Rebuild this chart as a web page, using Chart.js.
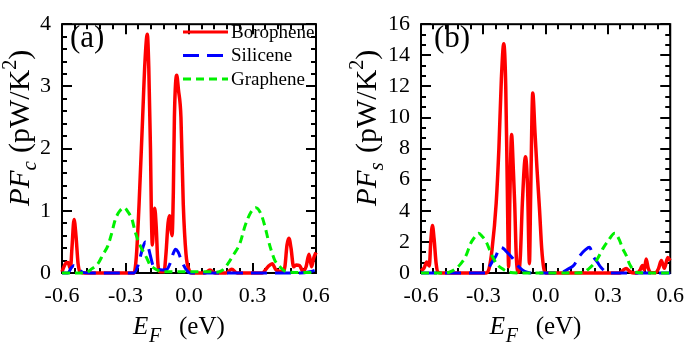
<!DOCTYPE html>
<html>
<head>
<meta charset="utf-8">
<script src="https://cdn.jsdelivr.net/npm/chart.js@4.4.0/dist/chart.umd.min.js"></script>
<style>
  body { margin: 0; background: #fff; }
  canvas { position: absolute; top: 0; }
</style>
</head>
<body>
<canvas id="chartA" width="347" height="349" style="left:0"></canvas>
<canvas id="chartB" width="347" height="349" style="left:347px"></canvas>
<script>
// ---- panel (a): PF_c ----
const boroA_E = [-0.600,-0.591,-0.581,-0.572,-0.560,-0.553,-0.543,-0.534,-0.524,-0.515,-0.496,
  -0.260,-0.248,-0.236,-0.219,-0.208,-0.197,-0.190,-0.182,-0.178,-0.173,-0.167,-0.162,-0.155,-0.147,
  -0.137,-0.118,-0.109,-0.099,-0.092,-0.085,-0.080,-0.074,-0.069,-0.058,-0.050,-0.038,-0.027,-0.014,
  0.000,0.014,0.075,0.099,0.123,0.175,0.202,0.227,0.345,0.373,0.393,0.411,0.445,0.453,0.463,0.472,
  0.482,0.494,0.506,0.522,0.538,0.553,0.567,0.579,0.590,0.600];
const boroA_PF = [0.02,0.10,0.16,0.17,0.07,0.40,0.86,0.60,0.15,0.02,0,
  0,0.30,1.10,2.50,3.40,3.84,3.30,2.00,1.00,0.45,0.85,1.04,0.75,0.15,
  0.02,0.02,0.30,0.80,0.92,0.70,0.60,1.30,2.50,3.18,2.95,2.50,1.10,0.30,
  0.05,0,0,0.05,0,0,0.06,0,0,0.10,0.15,0.05,0.02,0.10,0.45,0.56,
  0.40,0.10,0.13,0.12,0.03,0.10,0.30,0.10,0.25,0.33];

const siliA_E = [-0.600,-0.572,-0.557,-0.543,-0.524,-0.501,-0.468,
  -0.260,-0.241,-0.227,-0.216,-0.206,-0.197,-0.184,-0.170,-0.151,
  -0.123,-0.104,-0.090,-0.076,-0.064,-0.052,-0.033,-0.014,0.005,0.524,0.571,0.600];
const siliA_PF = [0,0,0.08,0.12,0.07,0.01,0,
  0,0.12,0.30,0.43,0.50,0.47,0.30,0.12,0.06,
  0.05,0.06,0.15,0.30,0.38,0.34,0.18,0.06,0,0,0.02,0.05];

const grapA_E = [-0.600,-0.491,-0.458,-0.430,-0.406,-0.383,-0.366,-0.350,-0.331,-0.307,
  -0.288,-0.269,-0.255,-0.232,-0.201,-0.184,-0.161,-0.137,-0.104,
  0.100,0.123,0.156,0.184,0.208,0.241,0.265,0.293,0.316,0.340,0.361,0.373,0.389,0.406,0.430,0.453,0.500,0.600];
const grapA_PF = [0,0,0.07,0.15,0.30,0.44,0.63,0.84,0.98,1.05,
  0.98,0.86,0.67,0.45,0.25,0.13,0.07,0.03,0.02,
  0.02,0.01,0.04,0.15,0.28,0.48,0.76,0.98,1.05,0.95,0.72,0.55,0.36,0.20,0.10,0.03,0.01,0.01];

// ---- panel (b): PF_s ----
const boroB_E = [-0.600,-0.586,-0.572,-0.560,-0.553,-0.545,-0.537,-0.527,-0.518,-0.502,
  -0.286,-0.272,-0.258,-0.238,-0.225,-0.213,-0.2015,-0.192,-0.185,-0.178,-0.172,-0.164,-0.155,-0.149,
  -0.141,-0.131,-0.122,-0.112,-0.097,-0.087,-0.078,-0.072,-0.062,-0.051,-0.042,-0.029,-0.019,-0.009,0.000,
  0.052,0.356,0.370,0.388,0.403,0.417,0.441,0.455,0.466,0.475,0.484,0.494,0.506,0.530,0.544,0.557,0.572,0.588,0.600];
const boroB_PF = [0.15,0.30,0.70,0.45,2.0,3.06,2.2,0.6,0.05,0,
  0,0.3,1.5,4.5,8.0,12.5,14.75,12.0,6.0,0.4,5.0,8.9,6.5,4.5,
  1.0,0.05,1.0,4.5,7.47,5.5,0.6,5.0,11.57,9.0,6.8,4.0,1.6,0.3,0,
  0,0,0.15,0.29,0.12,0.02,0,0.2,0.49,0.2,0.9,0.3,0.03,0.02,0.3,0.8,0.3,1.0,0.8];

const siliB_E = [-0.600,-0.290,-0.277,-0.258,-0.239,-0.220,-0.206,-0.183,-0.159,-0.136,-0.112,-0.089,-0.065,
  0.052,0.081,0.108,0.136,0.164,0.192,0.211,0.230,0.249,0.267,0.295,0.333,0.600];
const siliB_PF = [0,0,0.25,0.7,1.1,1.65,1.6,1.3,0.95,0.5,0.2,0.05,0,
  0,0.05,0.25,0.5,1.1,1.5,1.65,1.05,0.7,0.35,0.05,0,0];

const grapB_E = [-0.600,-0.487,-0.464,-0.436,-0.408,-0.384,-0.361,-0.342,-0.323,-0.305,
  -0.286,-0.267,-0.248,-0.230,-0.206,-0.183,-0.155,-0.089,
  0.145,0.183,0.206,0.230,0.249,0.277,0.300,0.333,0.356,0.370,0.389,0.403,0.422,0.441,0.474,0.600];
const grapB_PF = [0,0,0.05,0.25,0.6,1.1,1.9,2.3,2.55,2.35,
  2.0,1.4,0.85,0.5,0.25,0.08,0.02,0,
  0,0.05,0.25,0.55,0.9,1.6,2.05,2.55,2.1,1.6,1.1,0.6,0.2,0.03,0,0];

const legendNames = ['Borophene', 'Silicene', 'Graphene'];
const xTickValues = [-0.6, -0.3, 0.0, 0.3, 0.6];

const SERIF = '"Liberation Serif", "Times New Roman", serif';
const RED = '#ff0000', BLUE = '#0000ff', GREEN = '#00f000';
const BLUE_DASH = [16, 8], GREEN_DASH = [8, 5];

const pts = (xs, ys) => xs.map((x, i) => ({x: x, y: ys[i]}));

function seriesSets(boroE, boroPF, siliE, siliPF, grapE, grapPF) {
    // first dataset is drawn on top
    return [
        {label: legendNames[2], data: pts(grapE, grapPF), borderColor: GREEN, borderDash: GREEN_DASH},
        {label: legendNames[1], data: pts(siliE, siliPF), borderColor: BLUE, borderDash: BLUE_DASH},
        {label: legendNames[0], data: pts(boroE, boroPF), borderColor: RED, borderWidth: 3.5},
    ];
}

// draws a run of text pieces (font, offset) one after another
function drawRuns(ctx, runs, x, y) {
    let cx = x;
    runs.forEach(r => {
        if (r.at !== undefined) cx = x + r.at;
        ctx.font = r.font;
        ctx.fillText(r.t, cx, y + (r.dy || 0));
        cx += ctx.measureText(r.t).width;
    });
}

const panelPlugin = {
    id: 'panel',
    beforeDatasetsDraw(chart, args, o) {
        const {ctx, chartArea: a, scales: {x, y}} = chart;
        ctx.save();
        ctx.strokeStyle = '#000';
        ctx.lineWidth = 2;
        ctx.strokeRect(a.left, a.top, a.right - a.left, a.bottom - a.top);
        ctx.beginPath();
        for (let i = 0; i <= o.xCount; i++) {
            const px = Math.round(x.getPixelForValue(-0.6 + i * o.xStep));
            const len = i % o.xEvery === 0 ? 10 : 5;
            ctx.moveTo(px, a.bottom); ctx.lineTo(px, a.bottom - len);
            ctx.moveTo(px, a.top); ctx.lineTo(px, a.top + len);
        }
        for (let i = 0; i <= o.yCount; i++) {
            const py = Math.round(y.getPixelForValue(i * o.yStep));
            const len = i % o.yEvery === 0 ? 10 : 5;
            ctx.moveTo(a.left, py); ctx.lineTo(a.left + len, py);
            ctx.moveTo(a.right, py); ctx.lineTo(a.right - len, py);
        }
        ctx.stroke();
        ctx.restore();
    },
    afterDraw(chart, args, o) {
        const {ctx, chartArea: a} = chart;
        ctx.save();
        ctx.fillStyle = '#000';
        ctx.textBaseline = 'alphabetic';
        // panel tag
        ctx.font = '31px ' + SERIF;
        ctx.fillText(o.tag, a.left + o.tagDx, 47);
        // x title E_F (eV)
        const cx = (a.left + a.right) / 2;
        drawRuns(ctx, [
            {t: 'E', font: 'italic 25px ' + SERIF},
            {t: 'F', font: 'italic 20px ' + SERIF, dy: 8, at: 16},
            {t: '(eV)', font: '25px ' + SERIF, at: 46},
        ], cx - 56, 334);
        // y title PF_c (pW/K^2), rotated
        ctx.translate(29, 206);
        ctx.rotate(-Math.PI / 2);
        drawRuns(ctx, [
            {t: 'PF', font: 'italic 29px ' + SERIF},
            {t: o.sub, font: 'italic 21px ' + SERIF, dy: 7},
            {t: '(pW/K', font: '30px ' + SERIF, at: 53},
            {t: '2', font: '20px ' + SERIF, dy: -13},
            {t: ')', font: '30px ' + SERIF},
        ], 0, 0);
        ctx.restore();

        if (o.legend) {
            ctx.save();
            const rows = [[RED, []], [BLUE, BLUE_DASH], [GREEN, GREEN_DASH]];
            ctx.font = '19px ' + SERIF;
            ctx.textBaseline = 'middle';
            rows.forEach((r, i) => {
                const ly = 32 + i * 23.5;
                ctx.strokeStyle = r[0];
                ctx.lineWidth = 3;
                ctx.setLineDash(r[1]);
                ctx.beginPath();
                ctx.moveTo(183, ly); ctx.lineTo(228, ly);
                ctx.stroke();
                ctx.fillStyle = '#000';
                ctx.fillText(legendNames[i], 231, ly + 1);
            });
            ctx.restore();
        }
    }
};

function makeChart(id, sets, yMax, yStepLabel, cfg) {
    const tickFont = {family: SERIF, size: 22};
    return new Chart(document.getElementById(id), {
        type: 'line',
        data: {datasets: sets},
        options: {
            responsive: false,
            animation: false,
            devicePixelRatio: 1,
            layout: {padding: {top: 13, right: cfg.padRight, left: 0, bottom: 0}},
            datasets: {line: {clip: 4}},
            elements: {
                point: {radius: 0},
                line: {borderWidth: 3, cubicInterpolationMode: 'monotone', fill: false}
            },
            plugins: {
                legend: {display: false},
                tooltip: {enabled: false},
                panel: cfg.panel
            },
            scales: {
                x: {
                    type: 'linear', min: -0.6, max: 0.6,
                    grid: {display: false, drawTicks: false},
                    border: {display: false},
                    afterBuildTicks: s => { s.ticks = xTickValues.map(v => ({value: v})); },
                    ticks: {
                        font: tickFont, color: '#000', padding: 10, maxRotation: 0,
                        callback: v => (Math.abs(v) < 1e-9 ? 0 : v).toFixed(1)
                    },
                    afterFit: s => { s.height = 76; }
                },
                y: {
                    type: 'linear', min: 0, max: yMax,
                    grid: {display: false, drawTicks: false},
                    border: {display: false},
                    ticks: {font: tickFont, color: '#000', padding: 11, stepSize: yStepLabel},
                    afterFit: s => { s.width = cfg.yWidth; }
                }
            }
        },
        plugins: [panelPlugin]
    });
}

makeChart('chartA', seriesSets(boroA_E, boroA_PF, siliA_E, siliA_PF, grapA_E, grapA_PF), 4, 1, {
    padRight: 31, yWidth: 62,
    panel: {tag: '(a)', tagDx: 8, sub: 'c', legend: true,
        xStep: 0.06, xEvery: 5, xCount: 20, yStep: 0.2, yEvery: 5, yCount: 20}
});
makeChart('chartB', seriesSets(boroB_E, boroB_PF, siliB_E, siliB_PF, grapB_E, grapB_PF), 16, 2, {
    padRight: 17, yWidth: 74,
    panel: {tag: '(b)', tagDx: 13, sub: 's', legend: false,
        xStep: 0.06, xEvery: 5, xCount: 20, yStep: 2 / 3, yEvery: 3, yCount: 24}
});
</script>
</body>
</html>
